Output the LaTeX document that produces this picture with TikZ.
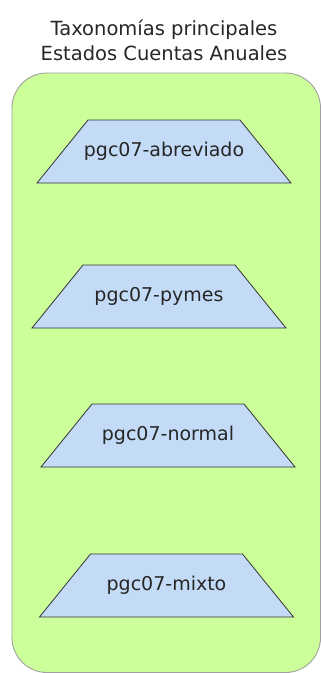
\documentclass[tikz,border=0pt]{standalone}
\usepackage{fontspec}
\setmainfont{DejaVu Sans}
\usepackage{tikz}
\usetikzlibrary{shapes.geometric,positioning}
\definecolor{groupgreen}{HTML}{CCFF99}
\definecolor{groupgray}{HTML}{A0A0A0}
\definecolor{taxblue}{HTML}{C3DBF6}
\definecolor{taxline}{HTML}{333333}
\tikzset{
  every node/.style={
    font=\fontsize{19}{25}\selectfont,
    text=black!85
  },
  group/.style={
    shape=rectangle,
    draw=groupgray,
    fill=groupgreen,
    rounded corners=35pt,
    line width=0.9pt,
    inner sep=0pt,
    minimum width=308.5pt,
    minimum height=599.5pt
  },
  taxonomy/.style={
    shape=rectangle,
    minimum width=256pt,
    minimum height=65pt,
    inner sep=0pt,
    path picture={
      \draw [taxline, fill=taxblue, line width=0.8pt]
        ([xshift=52pt,yshift=-1pt]path picture bounding box.north west)
        -- ([xshift=-52pt,yshift=-1pt]path picture bounding box.north east)
        -- ([xshift=-1pt,yshift=1pt]path picture bounding box.south east)
        -- ([xshift=1pt,yshift=1pt]path picture bounding box.south west)
        -- cycle;
    }
  },
  heading/.style={
    align=center
  }
}

\begin{document}
\begin{tikzpicture}[x=1pt,y=-1pt]
    \useasboundingbox (0,0) rectangle (321,673);
    \node [heading, font=\fontsize{19.5}{25}\selectfont] (title) at (164,40) {Taxonomías principales\\Estados Cuentas Anuales};
    \node [group] (estados) at (166.25,372.75) {};
    \node [taxonomy] (abreviado) at (164,151.5) {pgc07-abreviado};
    \node [taxonomy] (pymes) at (159,296.5) {pgc07-pymes};
    \node [taxonomy] (normal) at (168,435.5) {pgc07-normal};
    \node [taxonomy] (mixto) at (166.5,585.5) {pgc07-mixto};
\end{tikzpicture}
\end{document}
